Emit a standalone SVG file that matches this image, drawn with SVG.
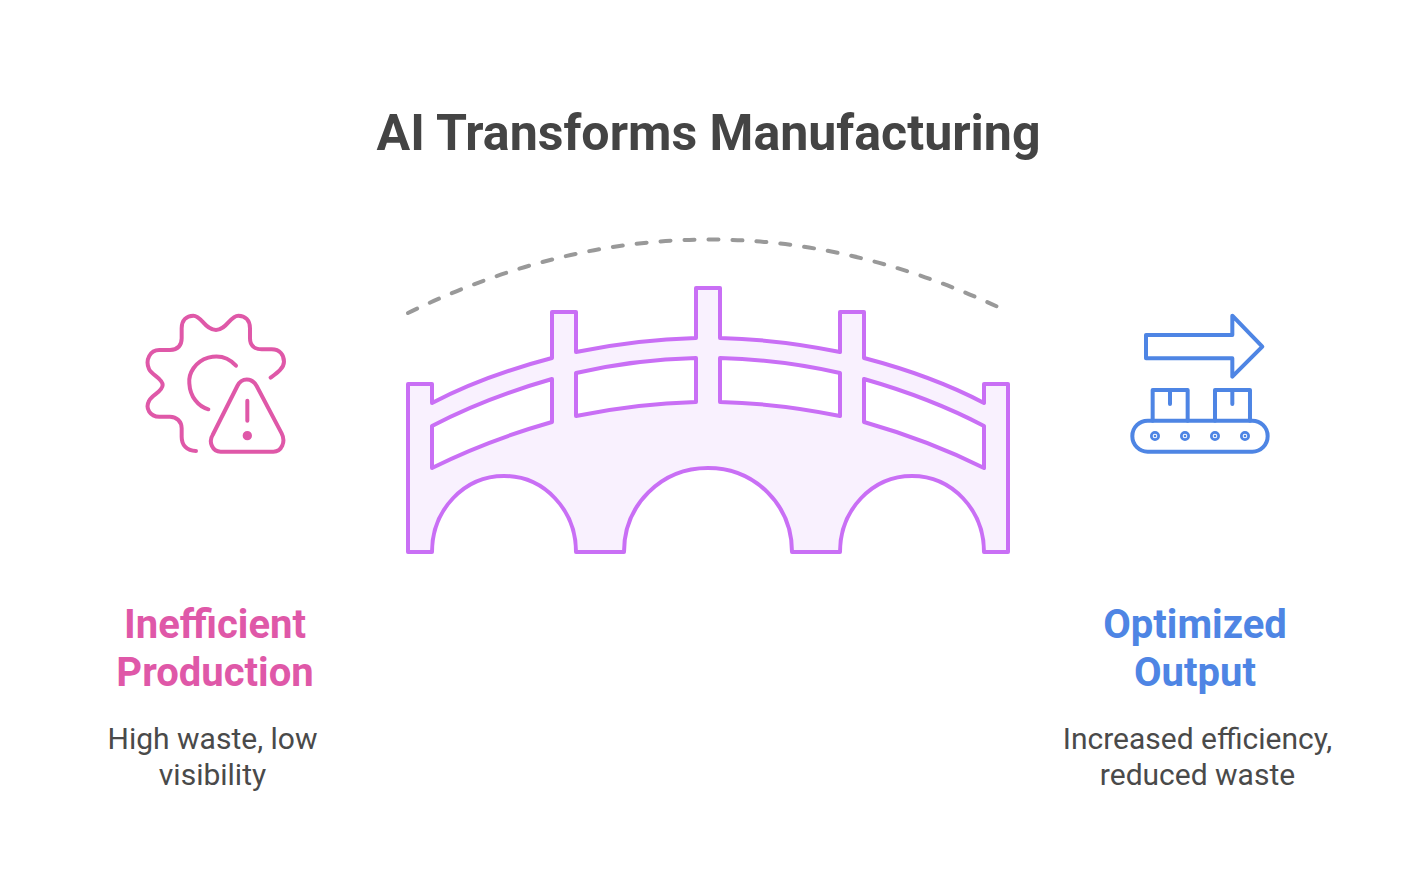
<svg xmlns="http://www.w3.org/2000/svg" width="1416" height="888" viewBox="0 0 1416 888">
<style>
text{font-family:Roboto,"Liberation Sans",sans-serif;text-anchor:middle}
.title{font-size:50.1px;font-weight:700;fill:#444}
.head{font-size:40px;font-weight:700}
.sub{font-size:30px;fill:#4A4A4A}
.pink{fill:#DF58A8}.blue{fill:#4E85E4}
.ic{fill:none;stroke-width:12;stroke-linecap:round;stroke-linejoin:round}
</style>
<rect width="1416" height="888" fill="#fff"/>
<text class="title" x="708.5" y="150">AI Transforms Manufacturing</text>
<g id="connectors">
<path d="M408 313Q703 169 998 307" fill="none" stroke="#999" stroke-width="4" stroke-linecap="round" stroke-dasharray="10 14"/>
</g>
<g id="bridge" fill="#F9F1FE" stroke="#C96FF5" stroke-width="4" stroke-linejoin="round">
<path fill-rule="evenodd" d="M408 384H432V403C470 383 510 369 552 358V312H576V352C615 344 655 339 696 338V288H720V338C761 339 801 344 840 352V312H864V358C906 369 946 383 984 403V384H1008V552H984C984 510 952 476 912 476C872 476 840 510 840 552H792C792 505 755 468 708 468C661 468 624 505 624 552H576C576 510 544 476 504 476C464 476 432 510 432 552H408ZM432 426V468C470 449 510 434 552 422V379C510 391 470 406 432 426ZM576 373V416C615 408 655 403 696 402V358C655 359 615 364 576 373ZM720 358V402C761 403 801 408 840 416V373C801 364 761 359 720 358ZM864 379V422C906 434 946 449 984 468V426C946 406 906 391 864 379Z"/>
</g>
<g id="inefficient-production">
<g transform="translate(130 300) scale(.3333)" class="ic" stroke="#DF58A8">
<path d="M198 453C170 453 155 435 155 410V385C155 365 140 350 120 350H88C60 350 45 325 57 303C65 285 98 275 98 255C98 235 65 225 57 207C45 180 60 150 88 150H120C145 150 155 135 155 115V85C155 60 170 47 190 47C215 47 225 90 258 90C290 90 300 47 325 47C345 47 360 60 360 85V115C360 135 372 148 395 148H425C450 148 462 165 462 185C462 205 440 220 422 233"/>
<path d="M318 197C295 172 265 165 235 173C195 185 175 220 178 250C180 290 205 320 235 328"/>
<path d="M322 258C335 232 365 232 380 258L455 400C468 425 455 455 430 455H272C247 455 235 425 248 405Z"/>
<path d="M352 302V362"/>
<circle cx="352" cy="407" r="8" fill="#DF58A8"/>
</g>
<text class="head pink" x="215" y="638">Inefficient</text>
<text class="head pink" x="215" y="686">Production</text>
<text class="sub" x="212.5" y="749">High waste, low</text>
<text class="sub" x="212.5" y="785">visibility</text>
</g>
<g id="optimized-output">
<g transform="translate(1115 300) scale(.3333)" class="ic" stroke="#4E85E4">
<path d="M93 105H352V47L442 140L352 230V175H93Z"/>
<path d="M113 362V270H218V362M300 362V270H405V362M165 270V312M352 270V312"/>
<rect x="52" y="362" width="406" height="93" rx="46"/>
<g stroke-width="8"><circle cx="120" cy="408" r="11"/><circle cx="210" cy="408" r="11"/><circle cx="300" cy="408" r="11"/><circle cx="390" cy="408" r="11"/></g>
<g fill="#4E85E4" stroke="none"><circle cx="120" cy="408" r="4"/><circle cx="210" cy="408" r="4"/><circle cx="300" cy="408" r="4"/><circle cx="390" cy="408" r="4"/></g>
</g>
<text class="head blue" x="1195" y="638">Optimized</text>
<text class="head blue" x="1195" y="686">Output</text>
<text class="sub" x="1197.5" y="749">Increased efficiency,</text>
<text class="sub" x="1197.5" y="785">reduced waste</text>
</g>
</svg>
